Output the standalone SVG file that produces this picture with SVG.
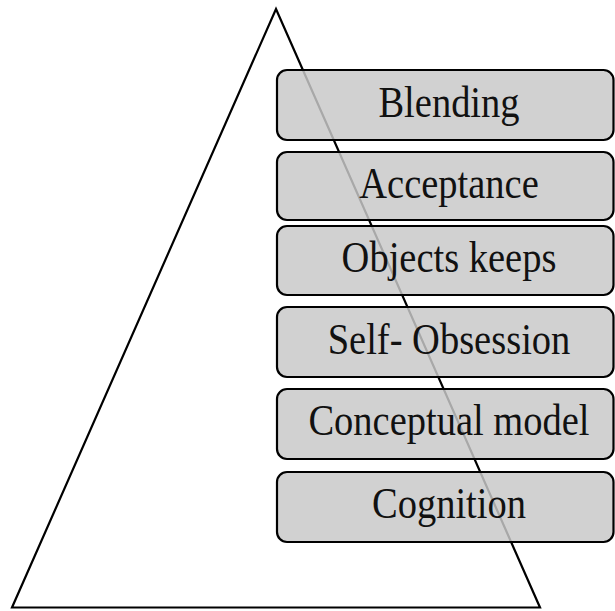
<svg xmlns="http://www.w3.org/2000/svg" width="615" height="611" viewBox="0 0 615 611">
<style>
.tri{fill:none;stroke:#000;stroke-width:2.2;stroke-linejoin:miter}
.box{fill:#c8c8c8;fill-opacity:0.84;stroke:#000;stroke-width:2.2}
.lbl{font-family:"Liberation Serif","Times New Roman",serif;font-size:38.5px;fill:#111;text-anchor:middle}
</style>
<rect width="615" height="611" fill="#fff"/>
<g id="connectors">
<polygon class="tri" points="276,9 540,607.5 12,607.5"/>
</g>
<g id="n1"><rect class="box" x="277" y="70" width="336.5" height="70" rx="10"/><text class="lbl" transform="translate(449,117) scale(1,1.14)">Blending</text></g>
<g id="n2"><rect class="box" x="277" y="152" width="336.5" height="68" rx="10"/><text class="lbl" transform="translate(449,198) scale(1,1.14)">Acceptance</text></g>
<g id="n3"><rect class="box" x="277" y="226" width="336.5" height="69" rx="10"/><text class="lbl" transform="translate(449,272) scale(1,1.14)">Objects keeps</text></g>
<g id="n4"><rect class="box" x="277" y="307" width="336.5" height="70" rx="10"/><text class="lbl" transform="translate(449,354) scale(1,1.14)">Self- Obsession</text></g>
<g id="n5"><rect class="box" x="277" y="389" width="336.5" height="70" rx="10"/><text class="lbl" transform="translate(449,435) scale(1,1.14)">Conceptual model</text></g>
<g id="n6"><rect class="box" x="277" y="472" width="336.5" height="70" rx="10"/><text class="lbl" transform="translate(449,518) scale(1,1.14)">Cognition</text></g>
</svg>
